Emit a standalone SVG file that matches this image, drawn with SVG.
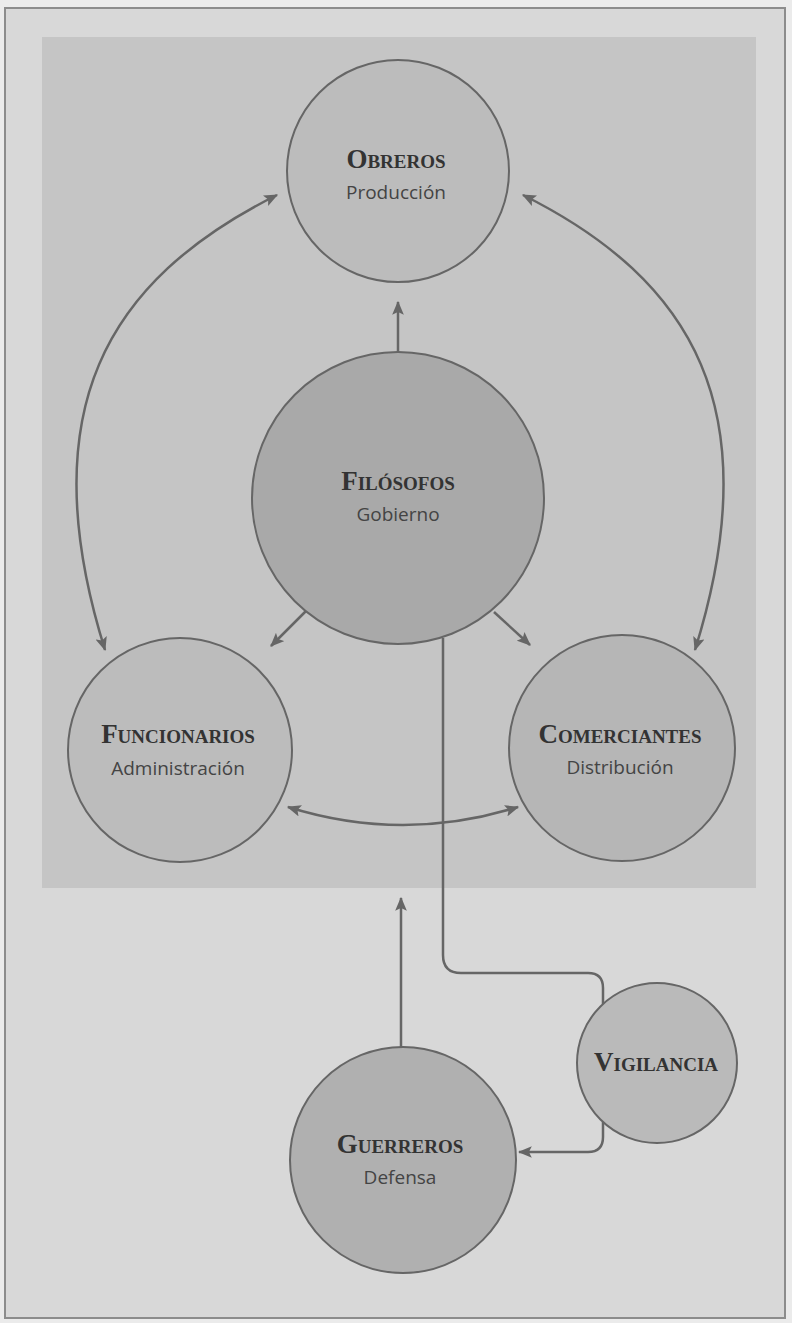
<svg xmlns="http://www.w3.org/2000/svg" width="792" height="1323" viewBox="0 0 792 1323">
  <defs>
    <marker id="ah" viewBox="0 0 12 10" refX="11" refY="5" markerWidth="14" markerHeight="12" markerUnits="userSpaceOnUse" orient="auto-start-reverse">
      <path d="M0,0 L12,5 L0,10 L2.5,5 Z" fill="#666"/>
    </marker>
    <style>
      .node { stroke: #666; stroke-width: 2; }
      .title { font-family: "Liberation Serif", "DejaVu Serif", serif; font-variant: small-caps; font-size: 27px; fill: #333; text-anchor: middle; font-weight: bold; }
      .sub { font-family: "Open Sans", "Liberation Sans", sans-serif; font-size: 19px; fill: #444; text-anchor: middle; }
      .conn { fill: none; stroke: #666; stroke-width: 2.5; }
    </style>
  </defs>

  <rect x="0" y="0" width="792" height="1323" fill="#ebebeb"/>
  <rect x="5" y="8" width="780" height="1310" fill="#d8d8d8" stroke="#8c8c8c" stroke-width="2"/>
  <rect x="42" y="37" width="714" height="851" fill="#c5c5c5"/>

  <g id="connectors">
    <path class="conn" d="M277,195 C107,280 30,410 105,650" marker-start="url(#ah)" marker-end="url(#ah)"/>
    <path class="conn" d="M523,195 C693,280 770,410 695,650" marker-start="url(#ah)" marker-end="url(#ah)"/>
    <path class="conn" d="M288,807 Q403,843 518,807" marker-start="url(#ah)" marker-end="url(#ah)"/>
    <path class="conn" d="M398,352 L398,302" marker-end="url(#ah)"/>
    <path class="conn" d="M307,610 L271,646" marker-end="url(#ah)"/>
    <path class="conn" d="M494,612 L530,645" marker-end="url(#ah)"/>
    <path class="conn" d="M443,638 L443,955 Q443,973 461,973 L588,973 Q603,973 603,988 L603,1004"/>
    <path class="conn" d="M603,1122 L603,1137 Q603,1152 588,1152 L519,1152" marker-end="url(#ah)"/>
    <path class="conn" d="M401,1047 L401,898" marker-end="url(#ah)"/>
  </g>

  <g id="obreros">
    <circle class="node" cx="398" cy="171" r="111" fill="#bcbcbc"/>
    <text class="title" x="396" y="168">Obreros</text>
    <text class="sub" x="396" y="199">Producción</text>
  </g>
  <g id="filosofos">
    <circle class="node" cx="398" cy="498" r="146" fill="#a9a9a9"/>
    <text class="title" x="398" y="490">Filósofos</text>
    <text class="sub" x="398" y="521">Gobierno</text>
  </g>
  <g id="funcionarios">
    <circle class="node" cx="180" cy="750" r="112" fill="#bcbcbc"/>
    <text class="title" x="178" y="743">Funcionarios</text>
    <text class="sub" x="178" y="775">Administración</text>
  </g>
  <g id="comerciantes">
    <circle class="node" cx="622" cy="748" r="113" fill="#b6b6b6"/>
    <text class="title" x="620" y="743">Comerciantes</text>
    <text class="sub" x="620" y="774">Distribución</text>
  </g>
  <g id="guerreros">
    <circle class="node" cx="403" cy="1160" r="113" fill="#b0b0b0"/>
    <text class="title" x="400" y="1153">Guerreros</text>
    <text class="sub" x="400" y="1184">Defensa</text>
  </g>
  <g id="vigilancia">
    <circle class="node" cx="657" cy="1063" r="80" fill="#bababa"/>
    <text class="title" x="656" y="1071">Vigilancia</text>
  </g>
</svg>
